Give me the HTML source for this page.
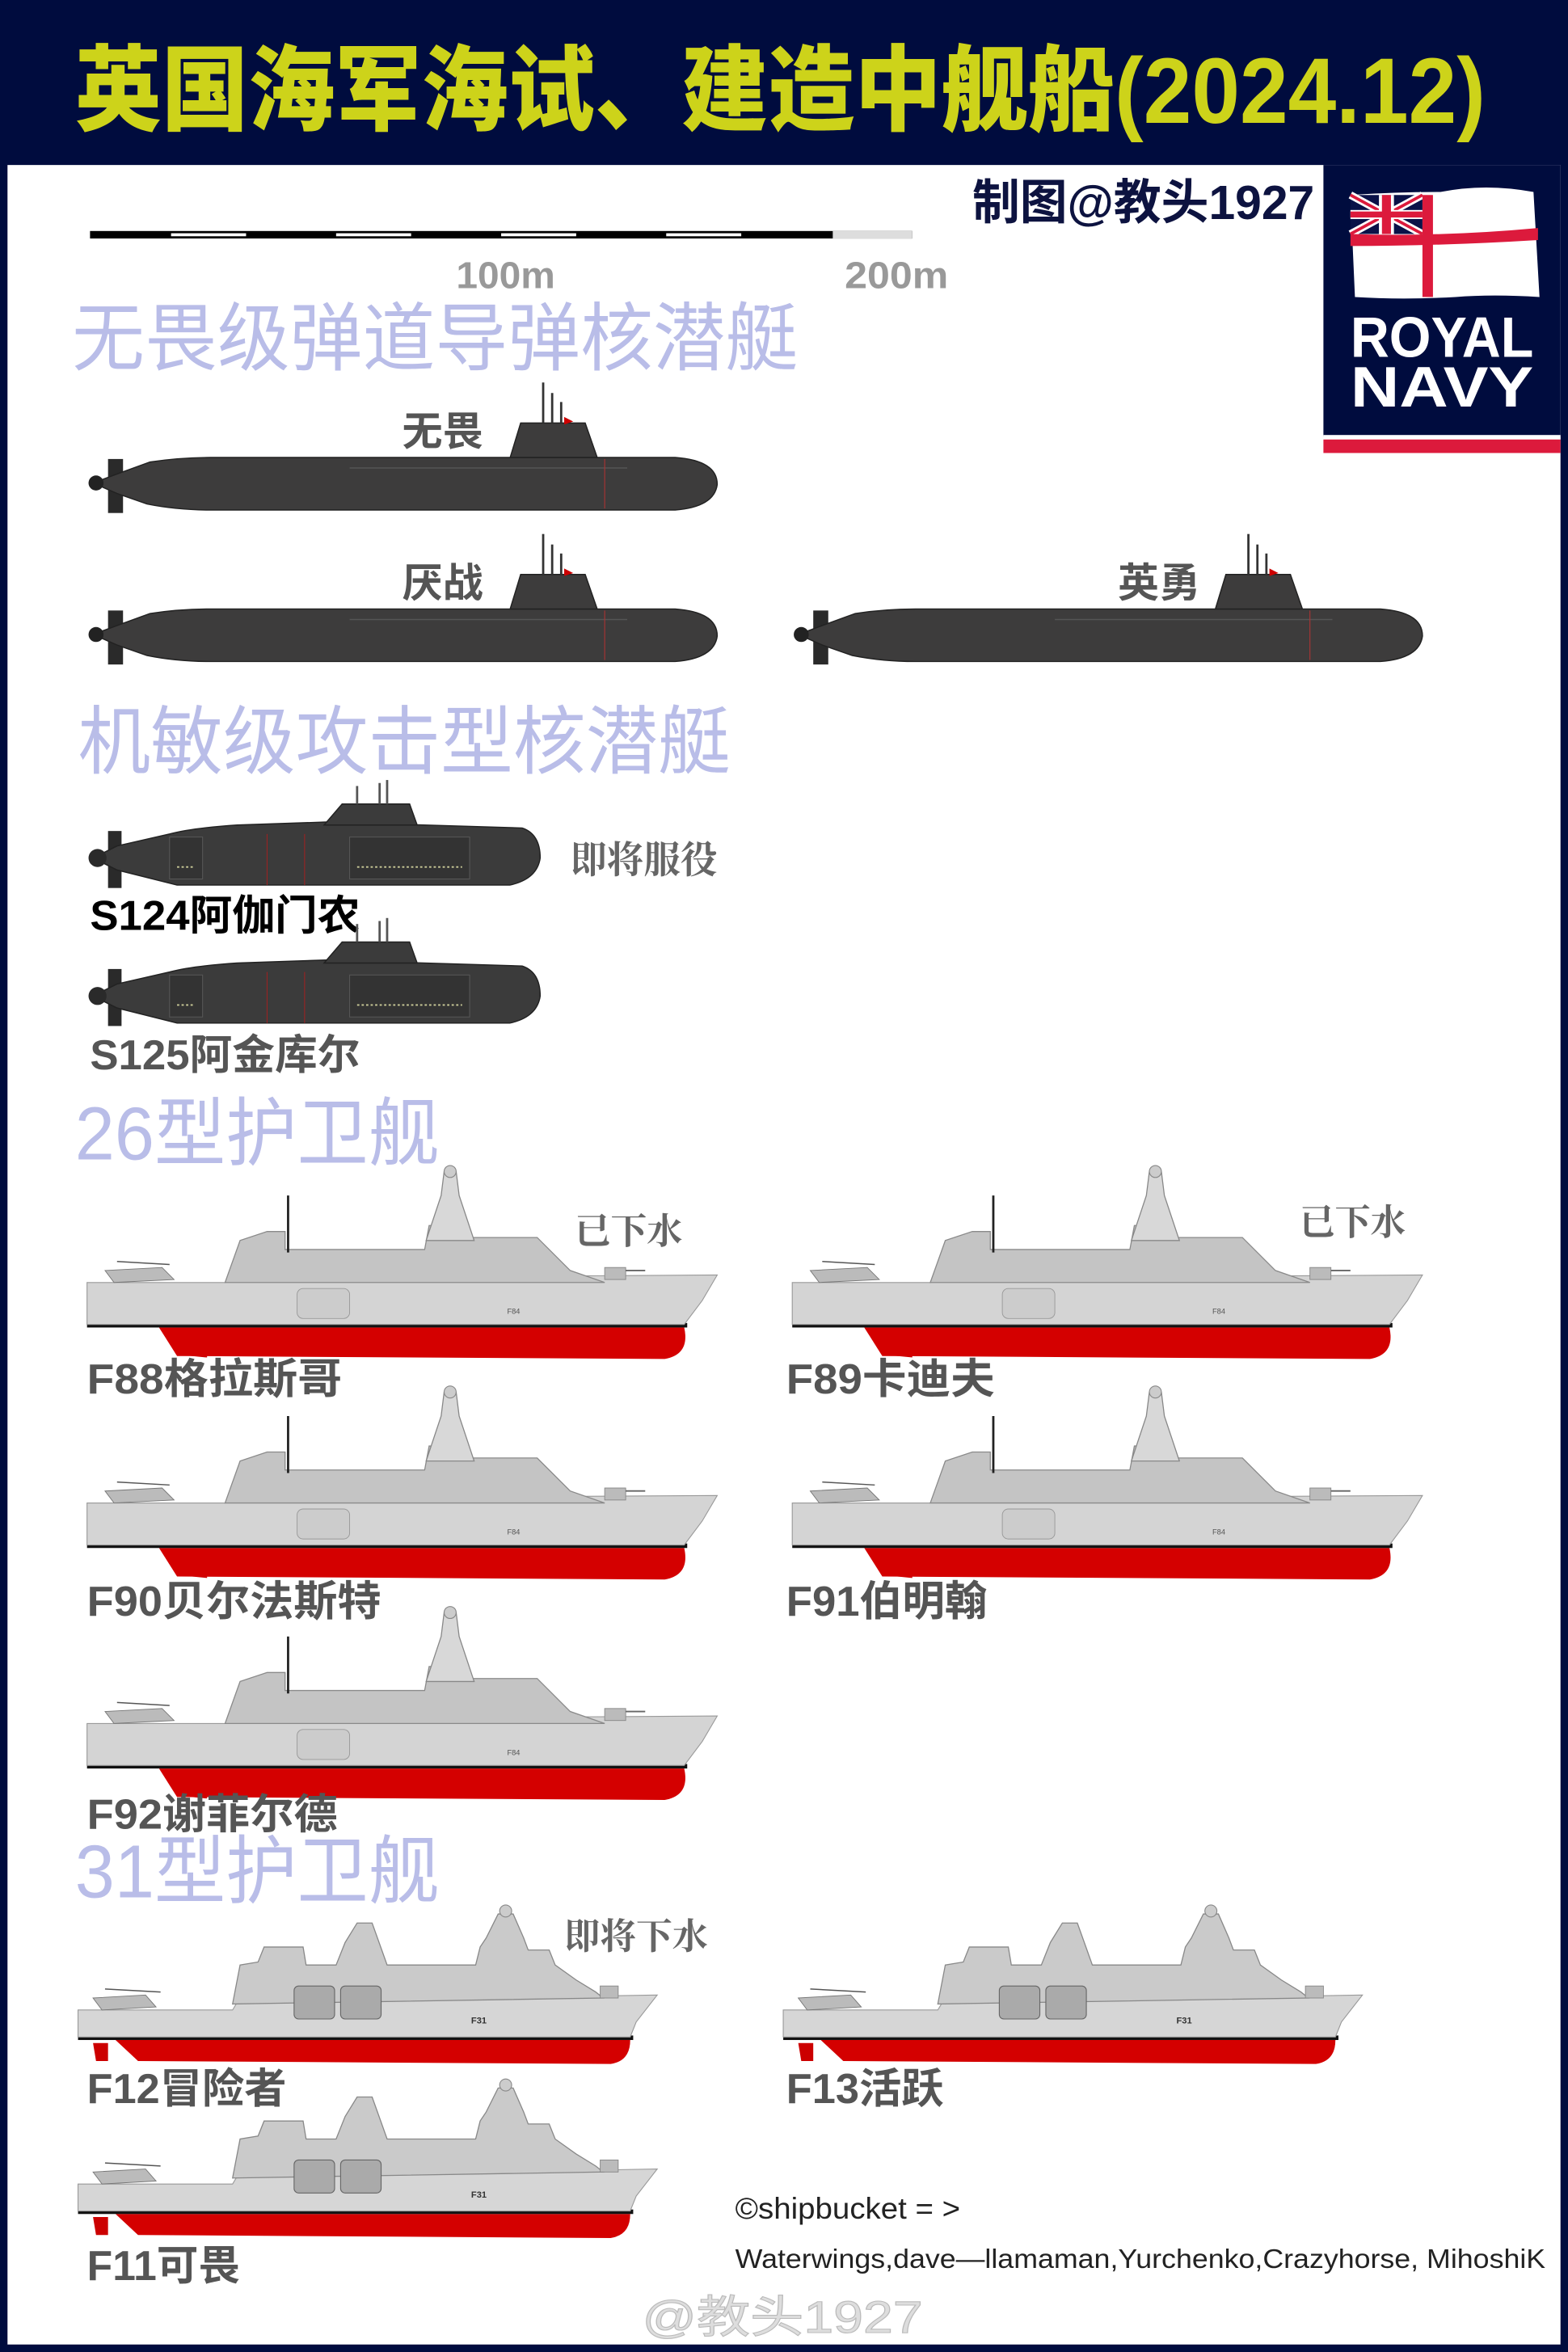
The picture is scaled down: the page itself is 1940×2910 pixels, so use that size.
<!DOCTYPE html>
<html><head><meta charset="utf-8"><style>
html,body{margin:0;padding:0;background:#000c3e;}
svg{display:block;}
.cj{font-family:"Liberation Sans","Noto Sans CJK SC",sans-serif;}
.sf{font-family:"Liberation Serif","Noto Serif CJK SC",serif;}
</style></head><body>
<svg width="1940" height="2910" viewBox="0 0 1045 1568" preserveAspectRatio="none" xmlns="http://www.w3.org/2000/svg">
<defs>
<g id="dn">
  <rect x="14" y="56" width="10" height="36" fill="#2a2a2a"/>
  <path d="M4,72 L20,66 L42,58 Q62,55 82,55 L392,55 Q420,57 420,73 Q418,88 392,90 L82,90 Q60,90 40,86 L20,79 Z" fill="#3d3c3c" stroke="#222" stroke-width="0.8"/>
  <circle cx="6" cy="72" r="5" fill="#222"/>
  <line x1="175" y1="62" x2="360" y2="62" stroke="#555" stroke-width="0.8"/>
  <path d="M282,55 L289,32 L332,32 L340,55 Z" fill="#3d3c3c" stroke="#222" stroke-width="0.8"/>
  <line x1="304" y1="32" x2="304" y2="5" stroke="#333" stroke-width="1.5"/>
  <line x1="310" y1="32" x2="310" y2="12" stroke="#333" stroke-width="1.5"/>
  <line x1="316" y1="32" x2="316" y2="18" stroke="#333" stroke-width="1.5"/>
  <path d="M318,28 L324,31 L318,33 Z" fill="#c00"/>
  <line x1="345" y1="56" x2="345" y2="89" stroke="#a33" stroke-width="0.6"/>
</g>
<g id="as">
  <rect x="14" y="34" width="9" height="38" fill="#2a2a2a"/>
  <path d="M4,52 L20,44 L55,36 Q70,32 100,30 L160,28 L290,32 Q302,36 302,52 Q300,66 282,70 L60,70 L20,60 Z" fill="#3b3b3b" stroke="#222" stroke-width="0.8"/>
  <circle cx="7" cy="52" r="6" fill="#2a2a2a"/>
  <path d="M158,30 L170,16 L215,16 L220,30 Z" fill="#3b3b3b" stroke="#222" stroke-width="0.8"/>
  <line x1="180" y1="16" x2="180" y2="4" stroke="#555" stroke-width="1.5"/>
  <line x1="195" y1="16" x2="195" y2="2" stroke="#555" stroke-width="1.5"/>
  <line x1="200" y1="16" x2="200" y2="0" stroke="#555" stroke-width="1.5"/>
  <rect x="55" y="38" width="22" height="28" fill="#333" stroke="#555" stroke-width="0.6"/>
  <rect x="175" y="38" width="80" height="28" fill="#333" stroke="#555" stroke-width="0.6"/>
  <line x1="180" y1="58" x2="250" y2="58" stroke="#cc9" stroke-width="1" stroke-dasharray="1.5,1.5"/>
  <line x1="60" y1="58" x2="72" y2="58" stroke="#cc9" stroke-width="1" stroke-dasharray="1.5,1.5"/>
  <line x1="120" y1="36" x2="120" y2="70" stroke="#922" stroke-width="0.6"/>
  <line x1="145" y1="36" x2="145" y2="70" stroke="#922" stroke-width="0.6"/>
</g>
<g id="t26">
  <path d="M64,117 L60,128 L80,130 L80,112 Z" fill="#c00"/>
  <path d="M48,110 L398,110 Q402,128 385,131 L60,129 Z" fill="#d40000"/>
  <rect x="0" y="107" width="400" height="3" fill="#111"/>
  <path d="M0,80 L92,80 L96,77 L420,75 L410,92 L398,108 L0,108 Z" fill="#d4d4d4" stroke="#999" stroke-width="0.6"/>
  <path d="M92,80 L102,52 L120,46 L132,46 L132,58 L225,58 L228,42 L248,42 L250,50 L300,50 L322,72 L345,80 Z" fill="#c4c4c4" stroke="#8a8a8a" stroke-width="0.7"/>
  <path d="M226,52 L236,22 L238,6 L246,6 L248,22 L258,52 Z" fill="#d8d8d8" stroke="#888" stroke-width="0.7"/>
  <circle cx="242" cy="6" r="4" fill="#ccc" stroke="#888" stroke-width="0.6"/>
  <line x1="134" y1="22" x2="134" y2="60" stroke="#222" stroke-width="1.5"/>
  <rect x="140" y="84" width="35" height="20" rx="4" fill="#ccc" stroke="#999" stroke-width="0.5"/>
  <rect x="345" y="70" width="14" height="8" fill="#bbb" stroke="#888" stroke-width="0.5"/>
  <line x1="359" y1="72" x2="372" y2="72" stroke="#666" stroke-width="1"/>
  <path d="M12,72 L50,70 L58,78 L18,80 Z" fill="#bbb" stroke="#777" stroke-width="0.5"/>
  <line x1="20" y1="66" x2="55" y2="68" stroke="#555" stroke-width="0.8"/>
  <text x="280" y="101" font-size="5" fill="#555" font-family="Liberation Sans,sans-serif">F84</text>
</g>
<g id="t31">
  <path d="M10,92 L12,104 L20,104 L20,92 Z" fill="#c00"/>
  <path d="M25,90 L368,90 Q368,104 355,106 L40,104 Z" fill="#d40000"/>
  <rect x="0" y="87" width="370" height="3" fill="#111"/>
  <path d="M0,70 L103,70 L106,65 L386,60 L372,78 L368,88 L0,88 Z" fill="#d6d6d6" stroke="#999" stroke-width="0.6"/>
  <path d="M103,66 L108,40 L120,38 L124,28 L150,28 L152,40 L172,40 L178,25 L186,12 L196,12 L206,40 L265,40 L268,28 L272,22 L280,6 L290,6 L297,22 L300,30 L314,30 L318,40 L332,50 L345,58 L350,62 Z" fill="#cacaca" stroke="#888" stroke-width="0.7"/>
  <rect x="144" y="54" width="27" height="22" rx="3" fill="#aaa" stroke="#666" stroke-width="0.6"/>
  <rect x="175" y="54" width="27" height="22" rx="3" fill="#aaa" stroke="#666" stroke-width="0.6"/>
  <circle cx="285" cy="4" r="4" fill="#ccc" stroke="#888" stroke-width="0.6"/>
  <rect x="348" y="54" width="12" height="8" fill="#bbb" stroke="#888" stroke-width="0.5"/>
  <path d="M10,62 L45,60 L52,68 L16,70 Z" fill="#bbb" stroke="#777" stroke-width="0.5"/>
  <line x1="18" y1="56" x2="55" y2="58" stroke="#555" stroke-width="0.8"/>
  <text x="262" y="79" font-size="6" fill="#333" font-weight="bold" font-family="Liberation Sans,sans-serif">F31</text>
</g>
</defs>

<rect x="0" y="0" width="1045" height="1568" fill="#000c3e"/>
<rect x="5" y="110" width="1035" height="1453" fill="#ffffff"/>

<text class="cj" x="50" y="82" font-size="62" font-weight="900" fill="#cdd31a" textLength="940" lengthAdjust="spacingAndGlyphs">英国海军海试、建造中舰船(2024.12)</text>

<rect x="882" y="110" width="158" height="181" fill="#000c3e"/>
<rect x="882" y="290" width="158" height="3" fill="#fff"/>
<rect x="882" y="293" width="158" height="9" fill="#dc1a3c"/>
<path d="M900,130 Q930,128 960,128 Q990,122 1022,128 L1026,198 Q995,196 970,198 Q935,200 903,198 Z" fill="#fff"/>
<rect x="900" y="130" width="48" height="26" fill="#0a1248"/>
<path d="M900,130 L948,156 M948,130 L900,156" stroke="#fff" stroke-width="5"/>
<path d="M900,130 L948,156 M948,130 L900,156" stroke="#dc1a3c" stroke-width="2"/>
<rect x="900" y="140" width="48" height="6" fill="#fff"/><rect x="919" y="130" width="10" height="26" fill="#fff"/>
<rect x="900" y="141" width="48" height="4" fill="#dc1a3c"/><rect x="921" y="130" width="6" height="26" fill="#dc1a3c"/>
<rect x="948" y="130" width="7" height="68" fill="#dc1a3c"/>
<path d="M900,156 Q960,158 1025,152 L1025,160 Q960,164 900,164 Z" fill="#dc1a3c"/>
<text x="900" y="238" font-size="38" font-weight="bold" fill="#fff" font-family="Liberation Sans,sans-serif" textLength="122" lengthAdjust="spacingAndGlyphs">ROYAL</text>
<text x="900" y="271" font-size="38" font-weight="bold" fill="#fff" font-family="Liberation Sans,sans-serif" textLength="122" lengthAdjust="spacingAndGlyphs">NAVY</text>

<text class="cj" x="648" y="146" font-size="32" font-weight="bold" fill="#0d1340" textLength="228" lengthAdjust="spacingAndGlyphs">制图@教头1927</text>

<g>
<rect x="60" y="154" width="548" height="5" fill="#000"/>
<rect x="114" y="155.5" width="50" height="2" fill="#fff"/>
<rect x="224" y="155.5" width="50" height="2" fill="#fff"/>
<rect x="334" y="155.5" width="50" height="2" fill="#fff"/>
<rect x="444" y="155.5" width="50" height="2" fill="#fff"/>
<rect x="555" y="154" width="53" height="5" fill="#ddd"/>
</g>
<text x="304" y="192" font-size="25" fill="#999" font-weight="bold" font-family="Liberation Sans,sans-serif" textLength="66" lengthAdjust="spacingAndGlyphs">100m</text>
<text x="563" y="192" font-size="25" fill="#999" font-weight="bold" font-family="Liberation Sans,sans-serif" textLength="69" lengthAdjust="spacingAndGlyphs">200m</text>

<text class="cj" x="48" y="243" font-size="50" fill="#b9bde8" textLength="484" lengthAdjust="spacingAndGlyphs">无畏级弹道导弹核潜艇</text>
<use href="#dn" x="58" y="250"/>
<text class="cj" x="268" y="297" font-size="27" font-weight="bold" fill="#555" textLength="54" lengthAdjust="spacingAndGlyphs">无畏</text>
<use href="#dn" x="58" y="351"/>
<text class="cj" x="268" y="398" font-size="27" font-weight="bold" fill="#555" textLength="54" lengthAdjust="spacingAndGlyphs">厌战</text>
<use href="#dn" x="528" y="351"/>
<text class="cj" x="745" y="398" font-size="27" font-weight="bold" fill="#555" textLength="55" lengthAdjust="spacingAndGlyphs">英勇</text>

<text class="cj" x="52" y="512" font-size="50" fill="#b9bde8" textLength="435" lengthAdjust="spacingAndGlyphs">机敏级攻击型核潜艇</text>
<use href="#as" x="58" y="520"/>
<text class="sf" x="380" y="582" font-size="25" font-weight="bold" fill="#666" textLength="98" lengthAdjust="spacingAndGlyphs">即将服役</text>
<text class="cj" x="60" y="620" font-size="28" font-weight="bold" fill="#000" textLength="180" lengthAdjust="spacingAndGlyphs">S124阿伽门农</text>
<use href="#as" x="58" y="612"/>
<text class="cj" x="60" y="713" font-size="28" font-weight="bold" fill="#555" textLength="180" lengthAdjust="spacingAndGlyphs">S125阿金库尔</text>

<text class="cj" x="50" y="773" font-size="50" fill="#b9bde8" textLength="243" lengthAdjust="spacingAndGlyphs">26型护卫舰</text>
<use href="#t26" x="58" y="775"/>
<use href="#t26" x="528" y="775"/>
<text class="sf" x="383" y="829" font-size="24" font-weight="bold" fill="#666" textLength="72" lengthAdjust="spacingAndGlyphs">已下水</text>
<text class="sf" x="866" y="823" font-size="24" font-weight="bold" fill="#666" textLength="71" lengthAdjust="spacingAndGlyphs">已下水</text>
<text class="cj" x="58" y="929" font-size="28" font-weight="bold" fill="#555" textLength="170" lengthAdjust="spacingAndGlyphs">F88格拉斯哥</text>
<text class="cj" x="524" y="929" font-size="28" font-weight="bold" fill="#555" textLength="139" lengthAdjust="spacingAndGlyphs">F89卡迪夫</text>
<use href="#t26" x="58" y="922"/>
<use href="#t26" x="528" y="922"/>
<text class="cj" x="58" y="1077" font-size="28" font-weight="bold" fill="#555" textLength="196" lengthAdjust="spacingAndGlyphs">F90贝尔法斯特</text>
<text class="cj" x="524" y="1077" font-size="28" font-weight="bold" fill="#555" textLength="134" lengthAdjust="spacingAndGlyphs">F91伯明翰</text>
<use href="#t26" x="58" y="1069"/>
<text class="cj" x="58" y="1219" font-size="28" font-weight="bold" fill="#555" textLength="167" lengthAdjust="spacingAndGlyphs">F92谢菲尔德</text>

<text class="cj" x="50" y="1265" font-size="50" fill="#b9bde8" textLength="243" lengthAdjust="spacingAndGlyphs">31型护卫舰</text>
<use href="#t31" x="52" y="1270"/>
<use href="#t31" x="522" y="1270"/>
<text class="sf" x="376" y="1299" font-size="24" font-weight="bold" fill="#666" textLength="96" lengthAdjust="spacingAndGlyphs">即将下水</text>
<text class="cj" x="58" y="1402" font-size="28" font-weight="bold" fill="#555" textLength="133" lengthAdjust="spacingAndGlyphs">F12冒险者</text>
<text class="cj" x="524" y="1402" font-size="28" font-weight="bold" fill="#555" textLength="105" lengthAdjust="spacingAndGlyphs">F13活跃</text>
<use href="#t31" x="52" y="1386"/>
<text class="cj" x="58" y="1520" font-size="28" font-weight="bold" fill="#555" textLength="102" lengthAdjust="spacingAndGlyphs">F11可畏</text>

<text x="490" y="1479" font-size="20" fill="#222" font-family="Liberation Sans,sans-serif" textLength="150" lengthAdjust="spacingAndGlyphs">©shipbucket = &gt;</text>
<text x="490" y="1512" font-size="18" fill="#222" font-family="Liberation Sans,sans-serif" textLength="540" lengthAdjust="spacingAndGlyphs">Waterwings,dave—llamaman,Yurchenko,Crazyhorse, MihoshiK</text>
<text class="cj" x="428" y="1555" font-size="30" fill="#ddd" stroke="#bbb" stroke-width="0.6" textLength="187" lengthAdjust="spacingAndGlyphs">@教头1927</text>
</svg>
</body></html>
